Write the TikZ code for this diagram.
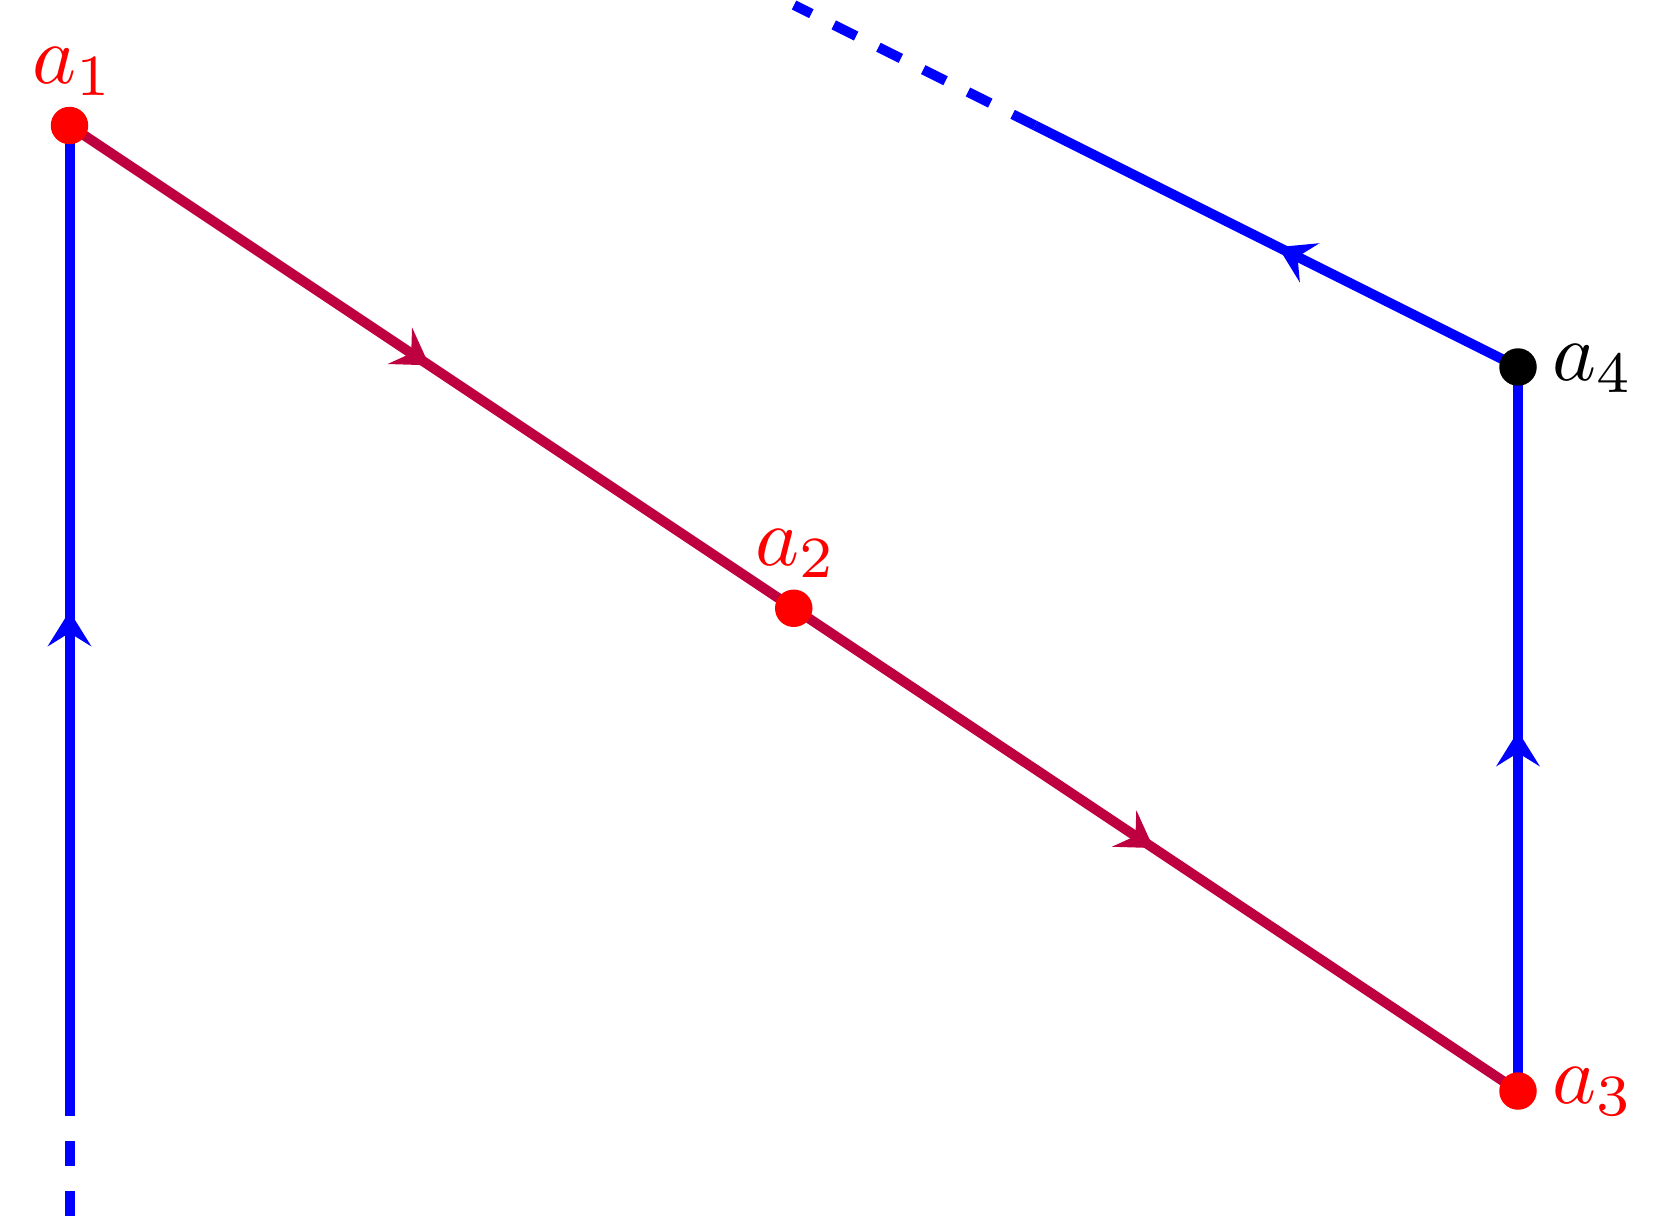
\documentclass[tikz,border=0pt]{standalone}
\usetikzlibrary{arrows.meta,decorations.markings}
\definecolor{edgered}{rgb}{0.75,0,0.25}
\tikzset{
  edge/.style={line width=1.2pt},
  midarrow/.style={postaction={decorate},decoration={markings,mark=at position 0.497 with {\arrow{Stealth[length=4.2pt,width=5.2pt,inset=1.6pt]}}}},
  vdot/.style={circle,fill=#1,inner sep=0pt,minimum size=4.5pt},
  lbl/.style={inner sep=0pt,anchor=base west}
}
\begin{document}
\begin{tikzpicture}[x=0.12pt,y=-0.12pt]
\useasboundingbox (0,0) rectangle (1659,1217);
\coordinate (a1) at (69.5,125.5);
\coordinate (a2) at (793.75,608.25);
\coordinate (a3) at (1518,1091);
\coordinate (a4) at (1518,367);
\coordinate (q) at (69.5,1091);
\coordinate (qend) at (69.5,1217);
\coordinate (p) at (1035,125.5);
\coordinate (r) at (794,5);
% blue edges
\draw[edge,blue,midarrow] (q) -- (a1);
\draw[edge,blue,dashed] (q) -- (qend);
\draw[edge,blue,midarrow] (a3) -- (a4);
\draw[edge,blue,midarrow] (a4) -- (p);
\draw[edge,blue,dashed] (p) -- (r);
% red edges
\draw[edge,edgered,midarrow] (a1) -- (a2);
\draw[edge,edgered,midarrow] (a2) -- (a3);
% dots
\node[vdot=red] (d1) at (a1) {};
\node[vdot=red] (d2) at (a2) {};
\node[vdot=red] (d3) at (a3) {};
\node[vdot=black] (d4) at (a4) {};
% labels
\node[lbl,text=red] (l1) at (31,83) {$a_1$};
\node[lbl,text=red] (l2) at (754,565) {$a_2$};
\node[lbl,text=red] (l3) at (1551,1103) {$a_3$};
\node[lbl,text=black] (l4) at (1551,380) {$a_4$};
\end{tikzpicture}
\end{document}
